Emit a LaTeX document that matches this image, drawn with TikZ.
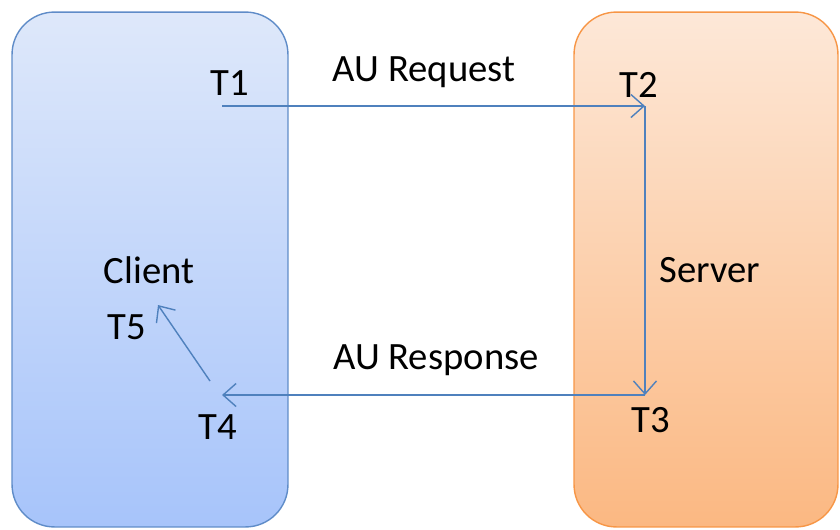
\documentclass[tikz,border=0pt]{standalone}
\usepackage{fontspec}
\setmainfont{Carlito}
\usetikzlibrary{arrows.meta}
\definecolor{linkblue}{RGB}{79,129,189}
\definecolor{cliedge}{RGB}{95,140,200}
\definecolor{srvedge}{RGB}{247,150,70}

\begin{document}
\begin{tikzpicture}[x=0.02cm,y=-0.02cm,
  side/.style={rectangle,rounded corners=0.85cm,line width=0.8pt,inner sep=0pt},
  lbl/.style={font=\fontsize{22}{26}\selectfont,inner sep=0pt},
  msg/.style={line width=0.8pt,linkblue,-{Straight Barb[length=2.6mm,width=4.6mm]}}]
  \useasboundingbox (0,0) rectangle (840,529);
  \node[side,draw=cliedge,top color={rgb,255:red,222;green,232;blue,250},bottom color={rgb,255:red,167;green,196;blue,250},minimum width=5.52cm,minimum height=10.3cm] (client) at (150,269.5) {};
  \node[side,draw=srvedge,top color={rgb,255:red,253;green,232;blue,216},bottom color={rgb,255:red,251;green,184;blue,130},minimum width=5.28cm,minimum height=10.3cm] (server) at (706,269.5) {};
  \node[lbl] (clientlbl) at (149,270) {Client};
  \node[lbl] (serverlbl) at (710,270) {Server};
  \node[lbl] (t1) at (230,83) {T1};
  \node[lbl] (t2) at (639,85) {T2};
  \node[lbl] (t3) at (651,420) {T3};
  \node[lbl] (t4) at (218,427) {T4};
  \node[lbl] (t5) at (127,327) {T5};
  \node[lbl] (req) at (424,72) {AU Request};
  \node[lbl] (resp) at (436,360) {AU Response};
  \coordinate (p1) at (222,106);
  \coordinate (p2) at (645,106);
  \coordinate (p3) at (645,395);
  \coordinate (p4) at (222,395);
  \coordinate (p5) at (210,381);
  \coordinate (p6) at (158,305);
  \draw[msg] (p1) -- (p2);
  \draw[msg] (p2) -- (p3);
  \draw[msg] (p3) -- (p4);
  \draw[msg] (p5) -- (p6);
\end{tikzpicture}
\end{document}
